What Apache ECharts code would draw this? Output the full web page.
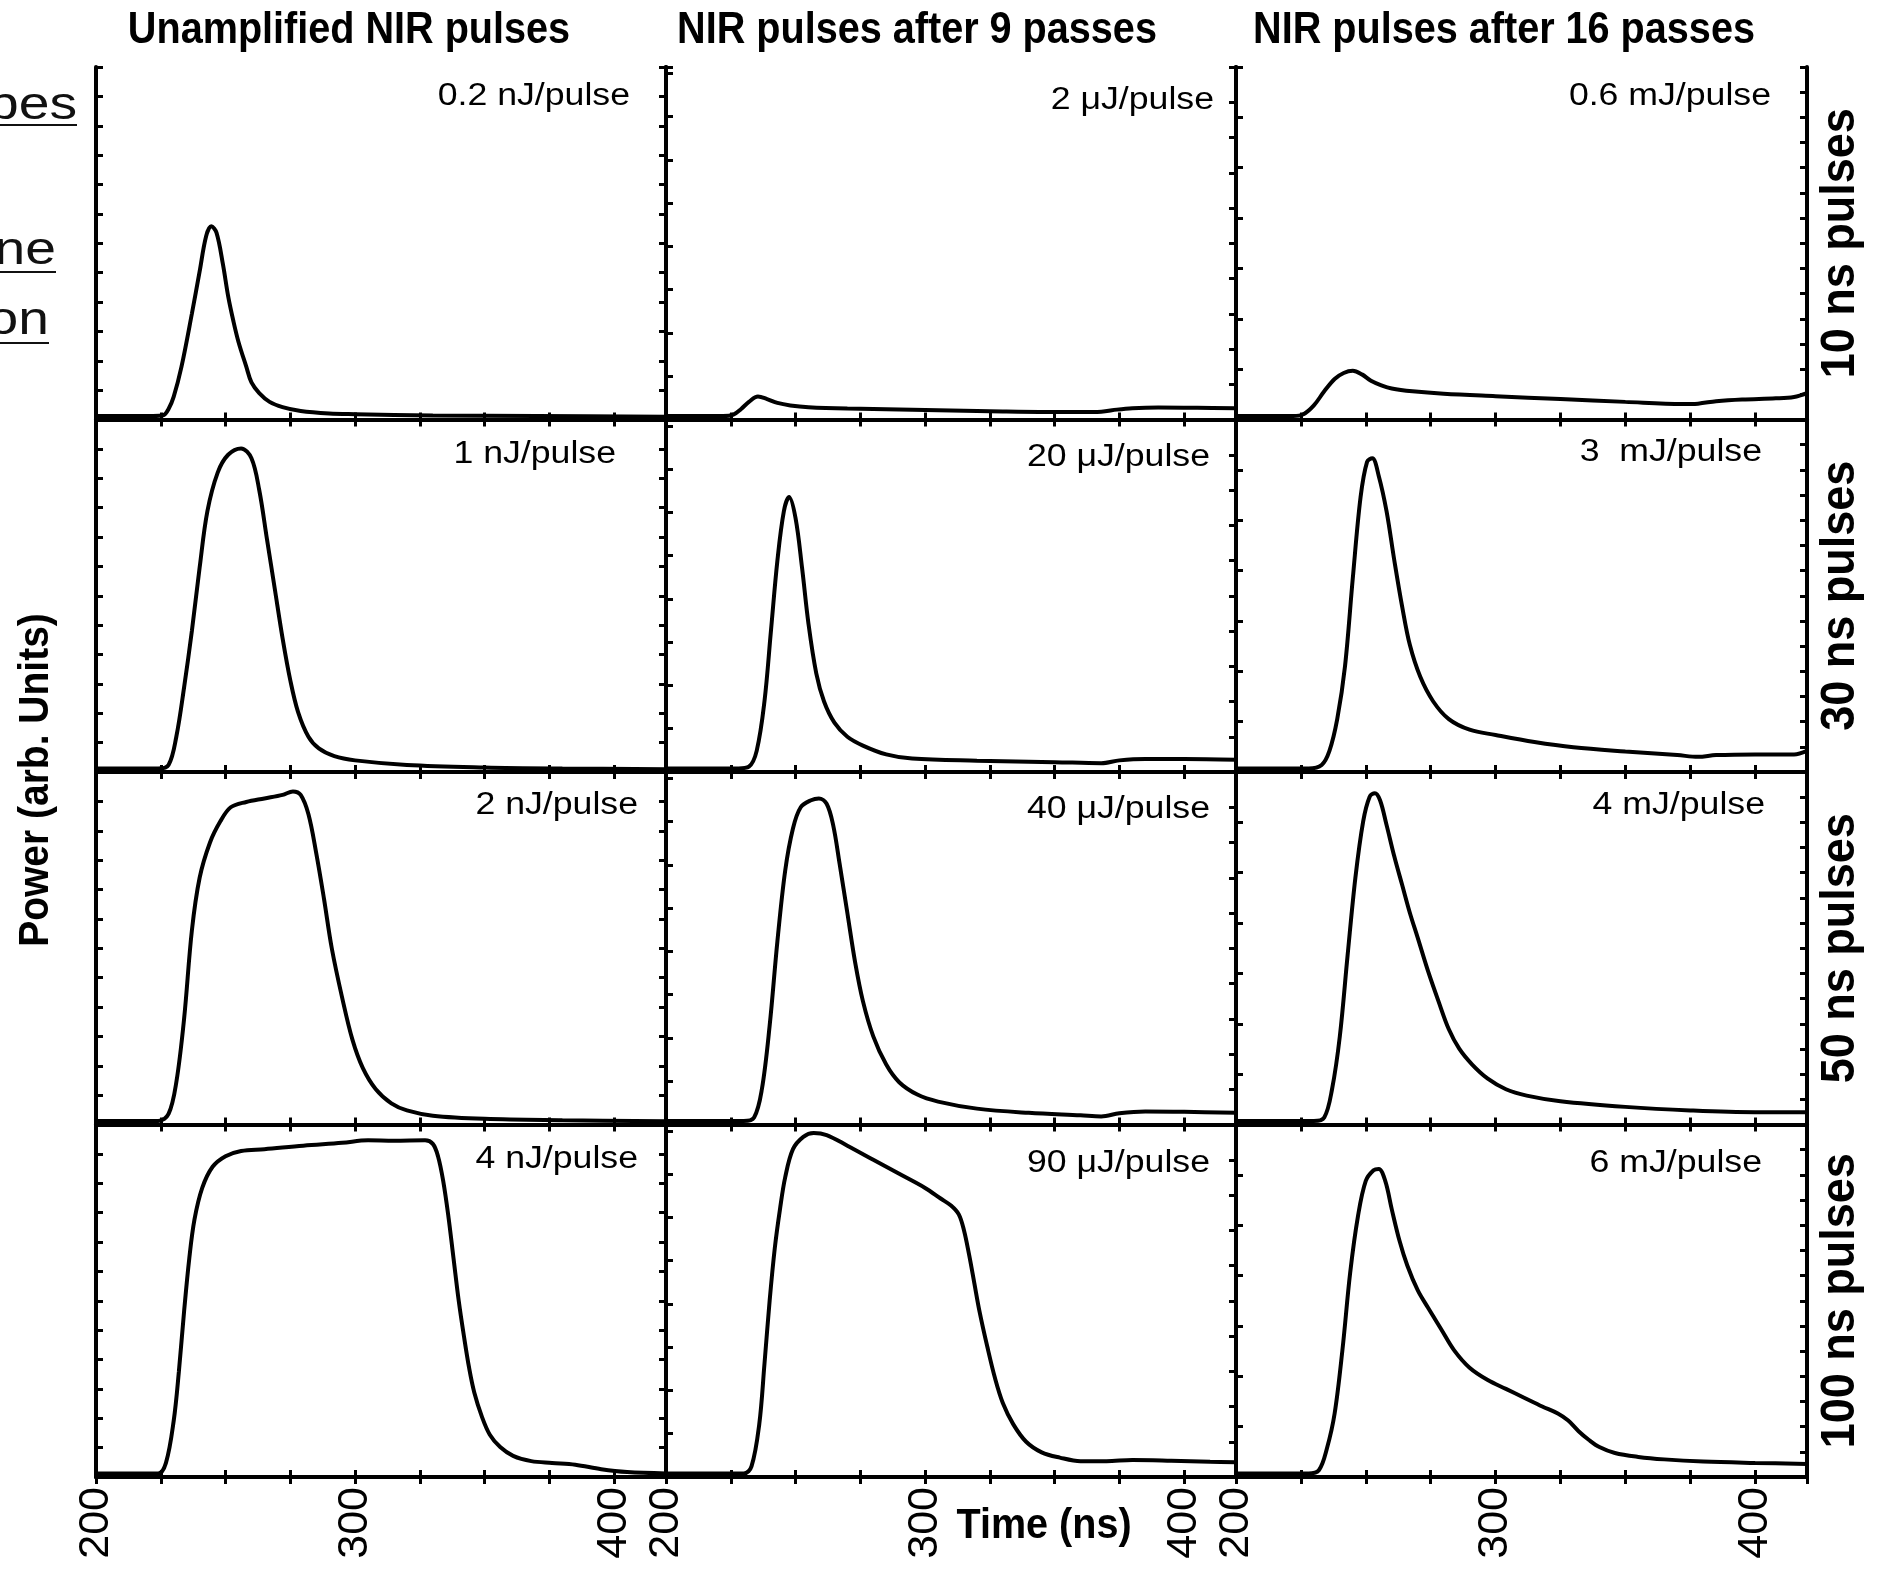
<!DOCTYPE html>
<html><head><meta charset="utf-8">
<script src="https://cdn.jsdelivr.net/npm/echarts@6/dist/echarts.min.js"></script>
<style>html,body{margin:0;padding:0;background:#fff}#c{width:1881px;height:1577px}</style>
</head><body><div id="c"></div>
<script>
// ---------- text / categories ----------
const columnTitles = ['Unamplified NIR pulses', 'NIR pulses after 9 passes', 'NIR pulses after 16 passes'];
const rowLabels = ['10 ns pulses', '30 ns pulses', '50 ns pulses', '100 ns pulses'];
const energyLabels = [
  '0.2 nJ/pulse', '2 \u03bcJ/pulse', '0.6 mJ/pulse',
  '1 nJ/pulse', '20 \u03bcJ/pulse', '3  mJ/pulse',
  '2 nJ/pulse', '40 \u03bcJ/pulse', '4 mJ/pulse',
  '4 nJ/pulse', '90 \u03bcJ/pulse', '6 mJ/pulse'
];
const xTickLabels = [200, 300, 400];
const timeRange = [200, 420];
const yLabel = 'Power (arb. Units)';
const xLabel = 'Time (ns)';
const leftFragments = ['bes', 'ne', 'on'];

// ---------- data (time in ns, power as fraction of panel height) ----------
// row 1: 10 ns pulses
const r1c1_t = [200,222,226,228,230,233,237,240,242.5,244.5,246.5,249,251,253,255,258,260,263,267,272,279,290,300,330,370,420];
const r1c1_p = [0.01,0.01,0.012,0.03,0.065,0.15,0.3,0.42,0.52,0.548,0.53,0.44,0.35,0.28,0.22,0.15,0.105,0.075,0.05,0.035,0.024,0.017,0.015,0.011,0.01,0.008];
const r1c2_t = [200,222,226,229,232,235.5,239,243,248,255,270,300,330,360,368,374,380,390,405,420];
const r1c2_p = [0.01,0.01,0.014,0.03,0.05,0.065,0.058,0.047,0.04,0.035,0.031,0.027,0.023,0.021,0.022,0.028,0.032,0.034,0.033,0.032];
const r1c3_t = [200,222,226,230,234,238,241.5,245,248.5,252,256,260,268,280,300,325,350,372,378,385,395,408,415,420];
const r1c3_p = [0.01,0.01,0.015,0.04,0.08,0.115,0.132,0.138,0.128,0.11,0.097,0.088,0.08,0.073,0.066,0.058,0.05,0.044,0.045,0.052,0.057,0.06,0.064,0.075];
// row 2: 30 ns pulses
const r2c1_t = [200,224,228,231,234,237,240,243,247,251,256,260,263,266,269,272,275,278,282,286,292,300,320,350,380,420];
const r2c1_p = [0.01,0.01,0.02,0.1,0.24,0.4,0.58,0.74,0.85,0.9,0.918,0.89,0.8,0.66,0.52,0.38,0.26,0.17,0.1,0.067,0.045,0.033,0.02,0.013,0.01,0.008];
const r2c2_t = [200,228,232,235,238,240.5,243,245.5,247.5,250,252.5,255,258,261,265,270,276,285,295,320,350,368,375,385,400,420];
const r2c2_p = [0.01,0.01,0.015,0.06,0.2,0.4,0.6,0.74,0.78,0.72,0.58,0.42,0.28,0.2,0.14,0.1,0.075,0.05,0.038,0.032,0.028,0.025,0.033,0.037,0.037,0.035];
const r2c3_t = [200,228,233,236,239,242,245,248,250.5,252.5,255,258,261,264,267,271,276,282,290,300,315,330,350,370,378,385,400,415,420];
const r2c3_p = [0.01,0.01,0.02,0.06,0.15,0.3,0.55,0.78,0.88,0.89,0.84,0.74,0.6,0.47,0.36,0.27,0.2,0.15,0.12,0.105,0.085,0.07,0.058,0.048,0.043,0.048,0.05,0.05,0.06];
// row 3: 50 ns pulses
const r3c1_t = [200,224,228,231,234,237,240,244,248,252,258,265,272,276,279,282,285,288,291,295,299,303,308,314,320,330,350,380,420];
const r3c1_p = [0.01,0.01,0.03,0.12,0.3,0.55,0.7,0.8,0.86,0.9,0.915,0.925,0.935,0.945,0.935,0.88,0.77,0.64,0.5,0.36,0.24,0.16,0.1,0.06,0.04,0.025,0.016,0.012,0.009];
const r3c2_t = [200,230,234,237,240,243,246,249,252,256,259,262,264.5,267,270,273,276,280,285,290,297,305,320,340,360,368,375,385,400,420];
const r3c2_p = [0.01,0.01,0.02,0.1,0.28,0.52,0.72,0.84,0.9,0.92,0.925,0.91,0.85,0.74,0.6,0.46,0.35,0.25,0.17,0.12,0.085,0.065,0.045,0.033,0.026,0.023,0.032,0.037,0.036,0.033];
const r3c3_t = [200,230,234,237,240,243,246,249,251.5,253.5,255.5,258,261,264,267,270,274,278,282,286,291,297,304,312,325,350,375,400,420];
const r3c3_p = [0.01,0.01,0.02,0.1,0.25,0.48,0.7,0.86,0.93,0.94,0.92,0.85,0.76,0.68,0.6,0.53,0.435,0.35,0.27,0.215,0.17,0.13,0.1,0.082,0.066,0.05,0.04,0.035,0.035];
// row 4: 100 ns pulses
const r4c1_t = [200,224,227,230,232,234,236,238,241,245,250,256,265,280,295,305,315,327,330,332,334,336,338,340,342,344,346,349,352,356,361,368,376,385,395,405,420];
const r4c1_p = [0.01,0.01,0.04,0.16,0.3,0.47,0.62,0.73,0.82,0.88,0.91,0.925,0.93,0.94,0.948,0.955,0.954,0.955,0.945,0.91,0.84,0.74,0.62,0.5,0.4,0.31,0.24,0.17,0.12,0.085,0.06,0.045,0.04,0.035,0.022,0.014,0.01];
const r4c2_t = [200,230,233,236,238,240,242,244,246,249,253,257,262,270,280,290,300,306,310,313,315,317,319,321,324,327,330,334,339,345,352,360,370,380,395,410,420];
const r4c2_p = [0.01,0.01,0.03,0.15,0.32,0.5,0.65,0.76,0.85,0.93,0.965,0.976,0.97,0.94,0.9,0.86,0.82,0.79,0.77,0.745,0.7,0.63,0.55,0.47,0.37,0.28,0.21,0.15,0.1,0.07,0.055,0.045,0.045,0.048,0.046,0.043,0.042];
const r4c3_t = [200,228,232,235,238,241,244,247,250,253,255,257.5,260,263,266,270,274,279,284,290,297,304,311,318,324,328,332,336,340,346,355,365,380,400,420];
const r4c3_p = [0.01,0.01,0.02,0.08,0.18,0.36,0.58,0.74,0.84,0.87,0.874,0.84,0.76,0.67,0.6,0.53,0.48,0.42,0.36,0.31,0.275,0.25,0.225,0.2,0.18,0.16,0.13,0.105,0.085,0.068,0.057,0.05,0.044,0.04,0.037];

const panelTimes = [r1c1_t, r1c2_t, r1c3_t, r2c1_t, r2c2_t, r2c3_t, r3c1_t, r3c2_t, r3c3_t, r4c1_t, r4c2_t, r4c3_t];
const panelPowers = [r1c1_p, r1c2_p, r1c3_p, r2c1_p, r2c2_p, r2c3_p, r3c1_p, r3c2_p, r3c3_p, r4c1_p, r4c2_p, r4c3_p];

// ---------- layout ----------
const colLeft = [96, 666, 1236];
const colWidth = [570, 570, 571];
const rowTop0 = 67, rowH = 352.5;
const leftTickCount = [12, 8.15, 7];
const rightTickCount = [12, 10, 14];
const energyPos = [[630,96],[1214,100],[1771,96],[616,454],[1210,457],[1762,452],[638,805],[1210,809],[1765,805],[638,1159],[1210,1163],[1762,1163]];
const FONT = '"Liberation Sans", Arial, Helvetica, sans-serif';

const grid = [], xAxis = [], yAxis = [], series = [];
const lineCommon = { show: true, lineStyle: { color: '#000', width: 4 } };
const tickCommon = { show: true, inside: true, length: 7, lineStyle: { color: '#000', width: 3 } };

for (let r = 0; r < 4; r++) {
  for (let c = 0; c < 3; c++) {
    const g = r * 3 + c;
    grid.push({ left: colLeft[c], top: rowTop0 + r * rowH, width: colWidth[c], height: rowH, containLabel: false });
    xAxis.push({
      type: 'value', gridIndex: g, position: 'bottom', min: timeRange[0], max: timeRange[1], interval: 25,
      axisLine: lineCommon, axisTick: tickCommon, splitLine: { show: false },
      axisLabel: {
        show: r === 3, rotate: 90, margin: 10, color: '#000', fontFamily: FONT, fontSize: 43,
        formatter: v => (xTickLabels.indexOf(v) >= 0 ? String(v) : '')
      }
    });
    xAxis.push({
      type: 'value', gridIndex: g, position: 'top', min: timeRange[0], max: timeRange[1], interval: 25,
      axisLine: lineCommon, axisTick: tickCommon, splitLine: { show: false }, axisLabel: { show: false }
    });
    // data axis (hidden)
    yAxis.push({ type: 'value', gridIndex: g, min: 0, max: 1, show: false, splitLine: { show: false } });
    // decorative left / right tick axes
    yAxis.push({ type: 'value', gridIndex: g, position: 'left', min: 0, max: leftTickCount[c], interval: 1,
      axisLine: lineCommon, axisTick: tickCommon, splitLine: { show: false }, axisLabel: { show: false } });
    yAxis.push({ type: 'value', gridIndex: g, position: 'right', min: 0, max: rightTickCount[c], interval: 1,
      axisLine: lineCommon, axisTick: tickCommon, splitLine: { show: false }, axisLabel: { show: false } });
    series.push({
      type: 'line', xAxisIndex: g * 2, yAxisIndex: g * 3, symbol: 'none', smooth: 0.35, silent: true,
      lineStyle: { color: '#000', width: 4 },
      data: panelTimes[g].map((t, i) => [t, panelPowers[g][i]])
    });
  }
}

const graphic = [];
const titleX = [349, 917, 1504];
columnTitles.forEach((t, i) => graphic.push({ type: 'text', x: titleX[i], y: 31, scaleX: 0.9,
  style: { text: t, font: 'bold 44px ' + FONT, fill: '#000', align: 'center', verticalAlign: 'middle' } }));
rowLabels.forEach((t, i) => graphic.push({ type: 'text', x: 1841, y: rowTop0 + (i + 0.5) * rowH, rotation: Math.PI / 2, scaleY: 1.08,
  style: { text: t, font: 'bold 45px ' + FONT, fill: '#000', align: 'center', verticalAlign: 'middle' } }));
graphic.push({ type: 'text', x: 36, y: 780, rotation: Math.PI / 2, scaleY: 1.08,
  style: { text: yLabel, font: 'bold 39px ' + FONT, fill: '#000', align: 'center', verticalAlign: 'middle' } });
graphic.push({ type: 'text', x: 1044, y: 1526, scaleX: 0.92,
  style: { text: xLabel, font: 'bold 43px ' + FONT, fill: '#000', align: 'center', verticalAlign: 'middle' } });
energyLabels.forEach((t, i) => graphic.push({ type: 'text', x: energyPos[i][0], y: energyPos[i][1], scaleX: 1.15,
  style: { text: t, font: '31px ' + FONT, fill: '#000', align: 'right', verticalAlign: 'middle' } }));
const fragPos = [[77, 106, 125], [56, 251, 272], [49, 321, 343]];
leftFragments.forEach((t, i) => {
  graphic.push({ type: 'text', x: fragPos[i][0], y: fragPos[i][1], scaleX: 1.2,
    style: { text: t, font: '46px ' + FONT, fill: '#111', align: 'right', verticalAlign: 'middle' } });
  graphic.push({ type: 'line', shape: { x1: 0, y1: fragPos[i][2], x2: fragPos[i][0], y2: fragPos[i][2] },
    style: { stroke: '#111', lineWidth: 2 } });
});

const chart = echarts.init(document.getElementById('c'), null, { renderer: 'canvas' });
chart.setOption({ animation: false, backgroundColor: '#fff', grid, xAxis, yAxis, series, graphic });
</script></body></html>
